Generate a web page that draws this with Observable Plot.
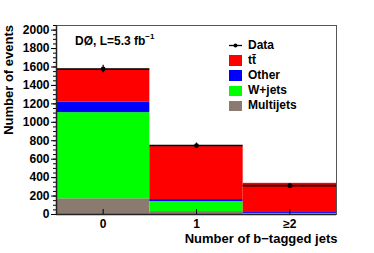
<!DOCTYPE html>
<html><head><meta charset="utf-8">
<script src="https://cdn.jsdelivr.net/npm/d3@7"></script>
<script src="https://cdn.jsdelivr.net/npm/@observablehq/plot@0.6"></script>
<style>
body{margin:0;background:#fff;font-family:"Liberation Sans",Arial,sans-serif;font-weight:bold;}
#wrap{position:relative;width:374px;height:253px;}
.leg{position:absolute;left:229px;font-size:12px;line-height:15px;color:#000;}
.row{position:relative;height:15.1px;}
.sw{position:absolute;left:0;top:2.3px;width:13px;height:10.5px;}
.lab{position:absolute;left:19px;top:0;white-space:nowrap;}
#d0{position:absolute;left:75px;top:33px;font-size:12px;white-space:nowrap;}
#d0 sup{font-size:8px;position:relative;top:-1px;}
#ytitle{position:absolute;left:2px;top:25px;font-size:13px;line-height:14px;writing-mode:vertical-rl;transform:rotate(180deg);white-space:nowrap;}
</style></head>
<body><div id="wrap"></div>
<script>
const bins = [0, 1, 2];
const binLabels = ["0", "1", "≥2"];
const processes = ["Multijets", "W+jets", "Other", "tt̄"];
const colors = ["#8a7a70", "#00ff00", "#0000ff", "#ff0000"];
const multijets = [170, 32, 4];
const wjets = [935, 108, 8];
const other = [112, 22, 10];
const ttbar = [358, 575, 316];
const dataCounts = [1578, 748, 313];
const legendOrder = ["tt̄", "Other", "W+jets", "Multijets"];
const xTitle = "Number of b\u2212tagged jets";
const yTitle = "Number of events";

const series = [multijets, wjets, other, ttbar];
const rows = [];
bins.forEach((b, i) => {
  let acc = 0;
  processes.forEach((p, j) => {
    const v = series[j][i];
    rows.push({bin: b, proc: p, y1: acc, y2: acc + v});
    acc += v;
  });
});
const dataRows = bins.map((b, i) => ({bin: b, n: dataCounts[i]}));
const blank = () => "";

const chart = Plot.plot({
  width: 374, height: 253,
  marginLeft: 56, marginRight: 38, marginTop: 25, marginBottom: 39,
  style: {fontFamily: '"Liberation Sans", Arial, sans-serif', fontWeight: "bold", fontSize: "12px", color: "#000", background: "#fff"},
  x: {domain: [-0.5, 2.5]},
  y: {domain: [0, 2050]},
  color: {domain: processes, range: colors},
  marks: [
    Plot.rect(rows, {x1: d => d.bin - 0.5, x2: d => d.bin + 0.5, y1: "y1", y2: "y2", fill: "proc"}),
    Plot.ruleY(dataRows, {x1: d => d.bin - 0.5, x2: d => d.bin + 0.5, y: "n", stroke: "#000", strokeWidth: 1.6}),
    Plot.ruleX(dataRows, {x: "bin", y1: d => d.n - Math.sqrt(d.n), y2: d => d.n + Math.sqrt(d.n), stroke: "#000", strokeWidth: 1.2}),
    Plot.dot(dataRows, {x: "bin", y: "n", r: 2.4, fill: "#000"}),
    Plot.frame({stroke: "#555", strokeWidth: 1}),
    Plot.axisY({ticks: d3.range(0, 2051, 50), tickSize: 3, tickFormat: blank, label: null, strokeWidth: 1}),
    Plot.axisY({ticks: d3.range(0, 2001, 200), tickSize: 5, tickPadding: 2, tickFormat: d => String(d), label: null, fontSize: 12}),
    Plot.ruleX([-0.5], {stroke: "#222", strokeWidth: 1.5}),
    Plot.ruleY([0], {stroke: "#222", strokeWidth: 1.5}),
    Plot.axisX({ticks: bins, tickSize: -5, tickFormat: blank, label: null}),
    Plot.axisX({ticks: bins, tickSize: 0, tickPadding: 5, tickFormat: d => binLabels[d], label: null, fontSize: 12}),
    Plot.text([xTitle], {frameAnchor: "bottom-right", textAnchor: "end", dy: 28, dx: 1, fontSize: 13, fontWeight: "bold"})
  ]
});
const wrap = document.getElementById("wrap");
wrap.appendChild(chart);

const yt = document.createElement("div");
yt.id = "ytitle";
yt.textContent = yTitle;
wrap.appendChild(yt);

const d0 = document.createElement("div");
d0.id = "d0";
d0.innerHTML = "DØ, L=5.3 fb<sup>−1</sup>";
wrap.appendChild(d0);

const leg = document.createElement("div");
leg.className = "leg";
leg.style.top = "38px";
let html = '<div class="row"><svg width="14" height="15" style="position:absolute;left:0;top:0"><line x1="0" x2="13" y1="7.5" y2="7.5" stroke="#000" stroke-width="1.3"/><circle cx="6.5" cy="7.5" r="2" fill="#000"/></svg><span class="lab">Data</span></div>';
legendOrder.forEach(p => {
  const c = colors[processes.indexOf(p)];
  html += `<div class="row"><span class="sw" style="background:${c}"></span><span class="lab">${p}</span></div>`;
});
leg.innerHTML = html;
wrap.appendChild(leg);
</script></body></html>
